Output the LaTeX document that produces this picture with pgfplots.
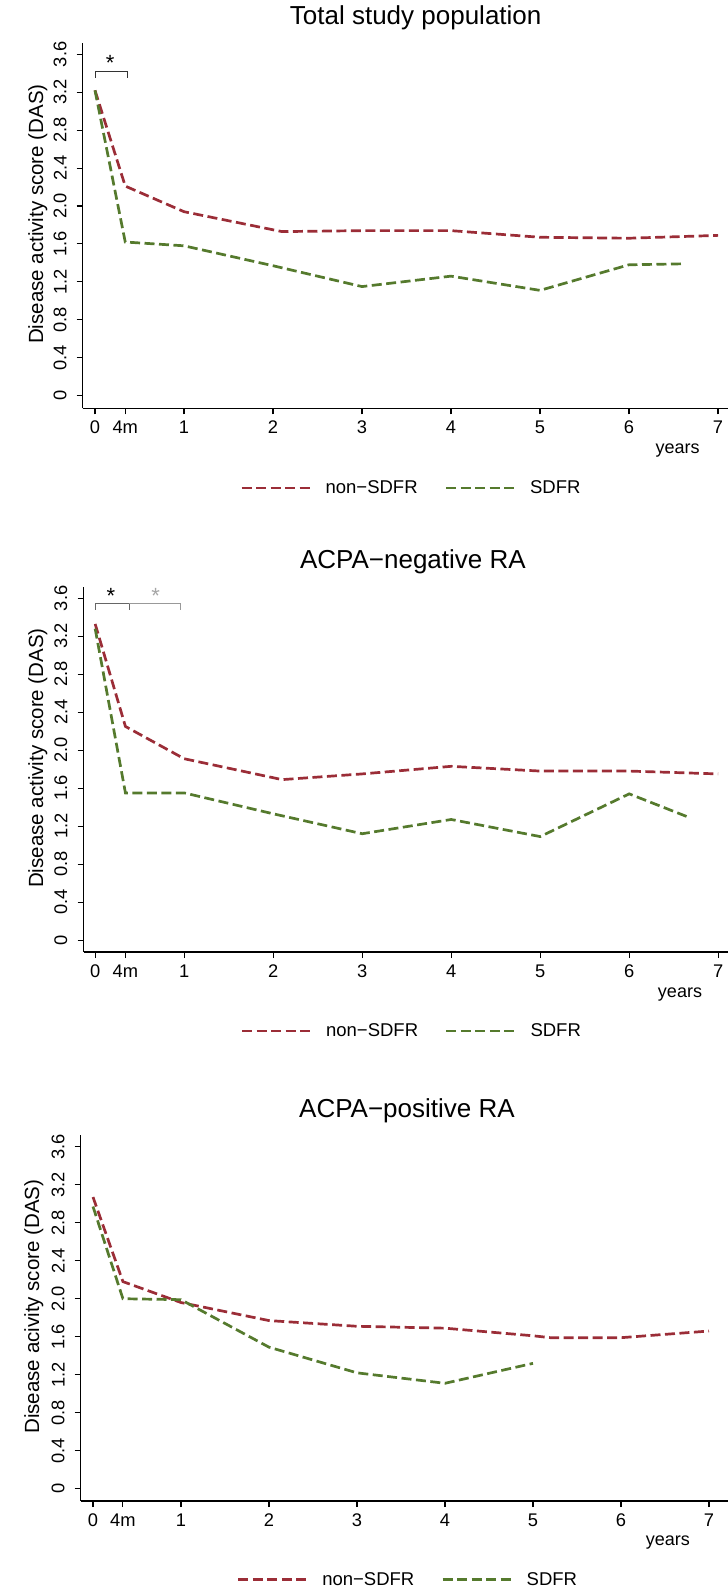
\documentclass[border=0pt]{standalone}
\usepackage{fontspec}
\setmainfont{Liberation Sans}
\usepackage{pgfplots}
\pgfplotsset{compat=1.18}
\definecolor{cranb}{RGB}{155,45,55}
\definecolor{dgreen}{RGB}{85,122,45}
\pgfplotsset{
  panel/.style={
    scale only axis,
    anchor=south west,
    axis x line=bottom, axis y line=left,
    axis line style={-, line width=1.2pt, black},
    every outer x axis line/.append style={-},
    every outer y axis line/.append style={-},
    tick style={line width=1.1pt, black},
    tick align=outside, major tick length=6pt,
    xtick={0,0.34,1,2,3,4,5,6,7},
    xticklabels={0,4m,1,2,3,4,5,6,7},
    ytick={0,0.4,0.8,1.2,1.6,2.0,2.4,2.8,3.2,3.6},
    yticklabels={0,0.4,0.8,1.2,1.6,2.0,2.4,2.8,3.2,3.6},
    ticklabel style={font=\fontsize{18.3}{20}\selectfont, inner sep=0pt},
    yticklabel style={rotate=90, anchor=south},
    xticklabel style={anchor=north},
    xticklabel shift=6.7pt, yticklabel shift=10pt,
    ylabel style={font=\fontsize{20.5}{22}\selectfont, anchor=base, inner sep=0pt},
    xlabel={years},
    xlabel style={font=\fontsize{18}{20}\selectfont, anchor=base, inner sep=0pt},
    title style={font=\fontsize{26}{29}\selectfont, anchor=base, inner sep=0pt},
    clip=false,
    legend columns=2,
    legend cell align=left,
    legend style={draw=none, fill=none, anchor=west, inner sep=0pt,
      font=\fontsize{18.5}{20}\selectfont,
      /tikz/every odd column/.append style={column sep=10.7pt},
      /tikz/every even column/.append style={column sep=25pt}},
    legend image code/.code={\draw[#1] (0pt,0pt) -- (70pt,0pt);},
    every axis plot/.append style={line width=2.7pt, dash pattern=on 10pt off 4.5pt},
  }
}
\begin{document}
\begin{tikzpicture}
\path[use as bounding box] (0pt,0pt) rectangle (728pt,-1591pt);

% Panel 1
\begin{axis}[panel,
  at={(82.7pt,-408.3pt)}, width=645.3pt, height=365pt,
  xmin=-0.138, xmax=7.112, ymin=-0.134, ymax=3.716,
  title={Total study population},
  title style={at={(axis description cs:0.516,1)}, yshift=13.3pt},
  ylabel={Disease activity score (DAS)},
  ylabel style={at={(axis description cs:-0.0615,0.532)}},
  xlabel style={at={(axis description cs:0.922,0)}, yshift=-44.7pt},
  legend style={at={(axis description cs:0.2438,-0.2184)}},
]
\addplot[cranb] coordinates {(0,3.22) (0.34,2.21) (1,1.94) (2.1,1.73) (3,1.74) (4,1.74) (5,1.67) (6,1.66) (7,1.69)};
\addlegendentry{non−SDFR}
\addplot[dgreen] coordinates {(0,3.22) (0.34,1.62) (1,1.58) (2,1.37) (3,1.15) (4,1.26) (5,1.11) (6,1.38) (6.6,1.39)};
\addlegendentry{SDFR}
\draw[line width=0.9pt, black!80] (axis cs:0,3.353) -- (axis cs:0,3.416) -- (axis cs:0.37,3.416) -- (axis cs:0.37,3.353);
\node[anchor=north, inner sep=0pt, font=\fontsize{22}{24}\selectfont] at (axis cs:0.17,3.59) {*};
\end{axis}

% Panel 2
\begin{axis}[panel,
  at={(83.6pt,-952pt)}, width=644.4pt, height=365.3pt,
  xmin=-0.130, xmax=7.110, ymin=-0.126, ymax=3.722,
  title={ACPA−negative RA},
  title style={at={(axis description cs:0.511,1)}, yshift=12.7pt},
  ylabel={Disease activity score (DAS)},
  ylabel style={at={(axis description cs:-0.063,0.531)}},
  xlabel style={at={(axis description cs:0.9255,0)}, yshift=-45pt},
  legend style={at={(axis description cs:0.2435,-0.2163)}},
]
\addplot[cranb] coordinates {(0,3.33) (0.34,2.25) (1,1.91) (2.1,1.69) (3,1.75) (4,1.83) (5,1.78) (6,1.78) (7,1.75)};
\addlegendentry{non−SDFR}
\addplot[dgreen] coordinates {(0,3.28) (0.34,1.55) (1,1.55) (2,1.33) (3,1.12) (4,1.27) (5,1.09) (6,1.54) (6.65,1.30)};
\addlegendentry{SDFR}
\draw[line width=0.9pt, black!60] (axis cs:0,3.477) -- (axis cs:0,3.543) -- (axis cs:0.38,3.543) -- (axis cs:0.38,3.477);
\draw[line width=0.9pt, black!40] (axis cs:0.38,3.543) -- (axis cs:0.955,3.543) -- (axis cs:0.955,3.477);
\node[anchor=north, inner sep=0pt, font=\fontsize{22}{24}\selectfont] at (axis cs:0.176,3.705) {*};
\node[anchor=north, inner sep=0pt, text=black!35, font=\fontsize{22}{24}\selectfont] at (axis cs:0.68,3.705) {*};
\end{axis}

% Panel 3
\begin{axis}[panel,
  at={(80.7pt,-1501pt)}, width=647.3pt, height=366pt,
  xmin=-0.1398, xmax=7.216, ymin=-0.129, ymax=3.723,
  title={ACPA−positive RA},
  title style={at={(axis description cs:0.504,1)}, yshift=12pt},
  ylabel={Disease acivity score (DAS)},
  ylabel style={at={(axis description cs:-0.0644,0.531)}},
  xlabel style={at={(axis description cs:0.907,0)}, yshift=-44pt},
  legend style={at={(axis description cs:0.241,-0.2145)}},
]
\addplot[cranb] coordinates {(0,3.07) (0.34,2.18) (1,1.96) (2,1.77) (3,1.71) (4,1.69) (5,1.61) (5.2,1.59) (6,1.59) (7,1.66)};
\addlegendentry{non−SDFR}
\addplot[dgreen] coordinates {(0,2.97) (0.34,2.00) (1,1.99) (2,1.49) (3,1.22) (4,1.11) (5,1.32)};
\addlegendentry{SDFR}
\end{axis}
\end{tikzpicture}
\end{document}
